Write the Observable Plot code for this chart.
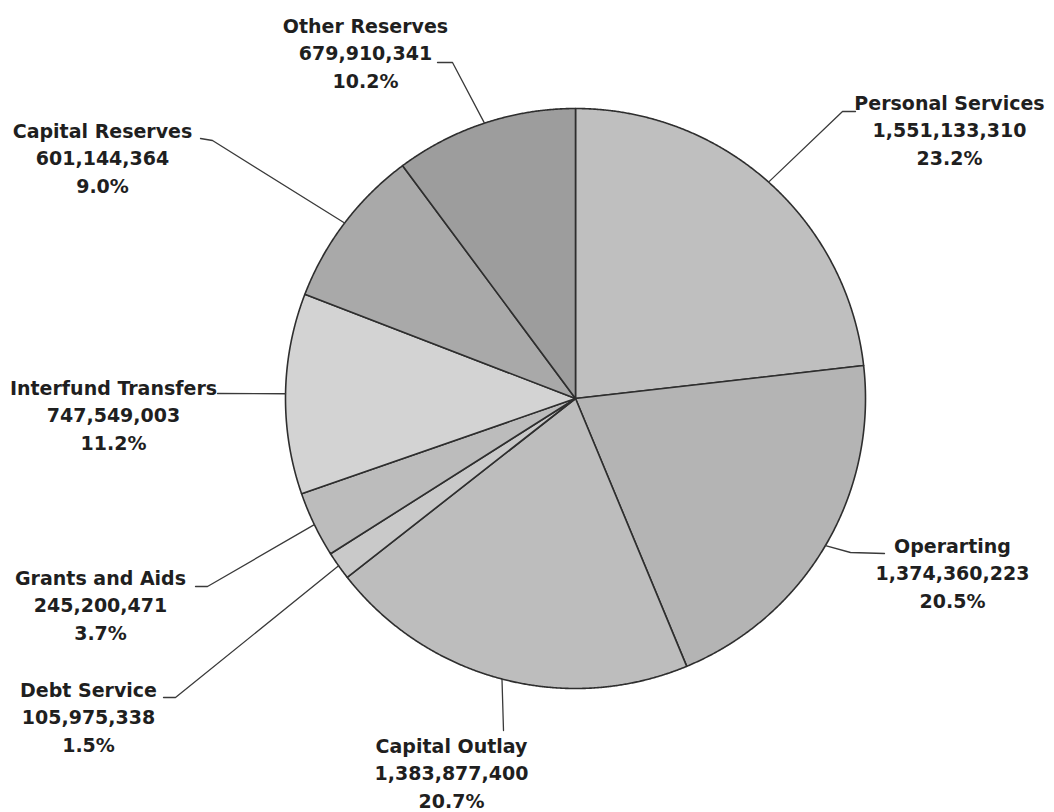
<!DOCTYPE html>
<html><head><meta charset="utf-8">
<script src="https://cdn.jsdelivr.net/npm/d3@7"></script>
<script src="https://cdn.jsdelivr.net/npm/@observablehq/plot@0.6"></script>
<style>html,body{margin:0;padding:0;background:#fff}</style>
</head><body><div id="chart"></div>
<script>
// ---- data ----
const categories = ["Personal Services","Operarting","Capital Outlay","Debt Service","Grants and Aids","Interfund Transfers","Capital Reserves","Other Reserves"];
const amounts = [1551133310,1374360223,1383877400,105975338,245200471,747549003,601144364,679910341];
const percentLabels = ["23.2%","20.5%","20.7%","1.5%","3.7%","11.2%","9.0%","10.2%"];
const sliceColors = ["#bfbfbf","#b4b4b4","#bdbdbd","#c9c9c9","#bcbcbc","#d3d3d3","#a9a9a9","#9d9d9d"];

// ---- layout (pixel-space units of the x/y scales) ----
const W = 1054, H = 812, cx = 575, cy = 398, R = 290;
const FS = 19, LH = 27.5;
const labelLayout = {
  "Personal Services":   {x: 949, base: 110, leader: [[842,111],[855,111]]},
  "Operarting":          {x: 952, base: 553, leader: [[850,552],[884,553]]},
  "Capital Outlay":      {x: 451, base: 753, leader: [[503,730]]},
  "Debt Service":        {x: 88,  base: 697, leader: [[175,697],[163,697]]},
  "Grants and Aids":     {x: 100, base: 585, leader: [[207,586],[195,586]]},
  "Interfund Transfers": {x: 113, base: 395, leader: [[217,393]]},
  "Capital Reserves":    {x: 102, base: 138, leader: [[212,140],[200,138]]},
  "Other Reserves":      {x: 365, base: 33,  leader: [[452,62],[437,62]]}
};

const fmt = d3.format(",");
const arcs = d3.pie().sort(null).value((d, i) => amounts[i])(categories);
const pt = a => [cx + R * Math.sin(a), cy - R * Math.cos(a)];

const slicePts = [];
arcs.forEach((a, i) => {
  const name = categories[i], color = sliceColors[i];
  slicePts.push({name, color, x: cx, y: cy});
  const n = Math.max(2, Math.ceil((a.endAngle - a.startAngle) / 0.004));
  for (let k = 0; k <= n; k++) {
    const t = a.startAngle + (a.endAngle - a.startAngle) * k / n;
    const [x, y] = pt(t);
    slicePts.push({name, color, x, y});
  }
  slicePts.push({name, color, x: cx, y: cy});
});

const leaderPts = [];
const labels = [];
arcs.forEach((a, i) => {
  const name = categories[i];
  const L = labelLayout[name];
  const [x0, y0] = pt((a.startAngle + a.endAngle) / 2);
  leaderPts.push({name, x: x0, y: y0});
  L.leader.forEach(([x, y]) => leaderPts.push({name, x, y}));
  labels.push({
    name,
    x: L.x,
    y: L.base - 0.71 * FS - 7,
    text: name + "\n" + fmt(amounts[i]) + "\n" + percentLabels[i]
  });
});

const chart = Plot.plot({
  width: W,
  height: H,
  margin: 0,
  style: {background: "#fff"},
  x: {domain: [0, W], range: [0, W], axis: null},
  y: {domain: [0, H], range: [0, H], axis: null},
  color: {type: "identity"},
  marks: [
    Plot.line(slicePts, {x: "x", y: "y", z: "name", fill: "color", stroke: "#2e2e2e", strokeWidth: 1.6, strokeLinejoin: "round", curve: "linear"}),
    Plot.line(leaderPts, {x: "x", y: "y", z: "name", stroke: "#3a3a3a", strokeWidth: 1.3, curve: "linear"}),
    Plot.text(labels, {x: "x", y: "y", text: "text", textAnchor: "middle", lineAnchor: "top", lineHeight: LH / FS,
      fontSize: FS, fontWeight: "bold", fontFamily: "DejaVu Sans", fill: "#1f1f1f"})
  ]
});
document.getElementById("chart").appendChild(chart);
</script>
</body></html>
